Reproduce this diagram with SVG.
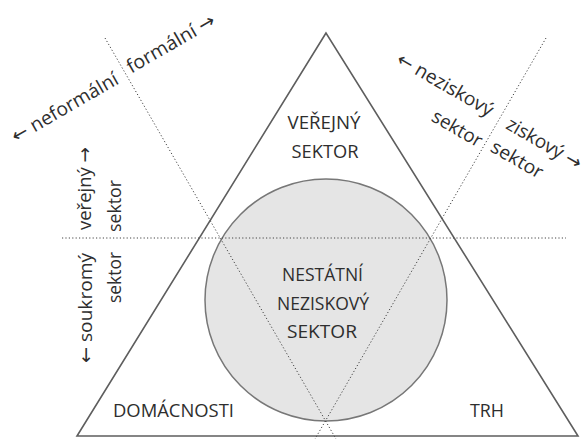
<svg xmlns="http://www.w3.org/2000/svg" width="587" height="439" viewBox="0 0 587 439">
<style>
text{font-family:"Open Sans","DejaVu Sans",sans-serif;font-size:19px;fill:#2e2e2e;}
.c{text-anchor:middle;}
.dot{stroke:#444;stroke-width:1;stroke-dasharray:1.2 2.2;fill:none;}
</style>
<rect width="587" height="439" fill="#fff"/>
<g id="triangle">
<polygon points="326,33 77,436 578,436" fill="none" stroke="#5e5e5e" stroke-width="1.6"/>
</g>
<g id="circle">
<circle cx="326" cy="300" r="121" fill="#e5e5e5" stroke="#777" stroke-width="1.5"/>
</g>
<g id="connectors">
<line class="dot" x1="105" y1="38" x2="336" y2="439"/>
<line class="dot" x1="546" y1="38" x2="315" y2="439"/>
<line class="dot" x1="62" y1="238" x2="566" y2="238"/>
</g>
<g id="verejny-sektor">
<text class="c" x="324" y="129" textLength="73" lengthAdjust="spacingAndGlyphs">VEŘEJNÝ</text>
<text class="c" x="325" y="158" textLength="67" lengthAdjust="spacingAndGlyphs">SEKTOR</text>
</g>
<g id="nestatni">
<text class="c" x="322.5" y="281" textLength="81" lengthAdjust="spacingAndGlyphs">NESTÁTNÍ</text>
<text class="c" x="323" y="310" textLength="92" lengthAdjust="spacingAndGlyphs">NEZISKOVÝ</text>
<text class="c" x="322" y="338" textLength="70" lengthAdjust="spacingAndGlyphs">SEKTOR</text>
</g>
<g id="domacnosti">
<text class="c" x="173.5" y="417" textLength="121" lengthAdjust="spacingAndGlyphs">DOMÁCNOSTI</text>
</g>
<g id="trh">
<text class="c" x="487" y="417" textLength="34" lengthAdjust="spacingAndGlyphs">TRH</text>
</g>
<g id="axis-labels">
<text class="c" transform="translate(68,113) rotate(-30)" textLength="120" lengthAdjust="spacingAndGlyphs">← neformální</text>
<text class="c" transform="translate(174,49) rotate(-30)" textLength="99" lengthAdjust="spacingAndGlyphs">formální →</text>
<text class="c" transform="translate(442,90) rotate(30)" textLength="108" lengthAdjust="spacingAndGlyphs">← neziskový</text>
<text class="c" transform="translate(454,134) rotate(30)" textLength="55" lengthAdjust="spacingAndGlyphs">sektor</text>
<text class="c" transform="translate(541,149) rotate(30)" textLength="84" lengthAdjust="spacingAndGlyphs">ziskový →</text>
<text class="c" transform="translate(514,165) rotate(30)" textLength="57" lengthAdjust="spacingAndGlyphs">sektor</text>
<text class="c" transform="translate(91,188.5) rotate(-90)" textLength="83" lengthAdjust="spacingAndGlyphs">veřejný →</text>
<text class="c" transform="translate(121,206) rotate(-90)" textLength="52" lengthAdjust="spacingAndGlyphs">sektor</text>
<text class="c" transform="translate(92,308) rotate(-90)" textLength="110" lengthAdjust="spacingAndGlyphs">← soukromý</text>
<text class="c" transform="translate(121,277.5) rotate(-90)" textLength="51" lengthAdjust="spacingAndGlyphs">sektor</text>
</g>
</svg>
